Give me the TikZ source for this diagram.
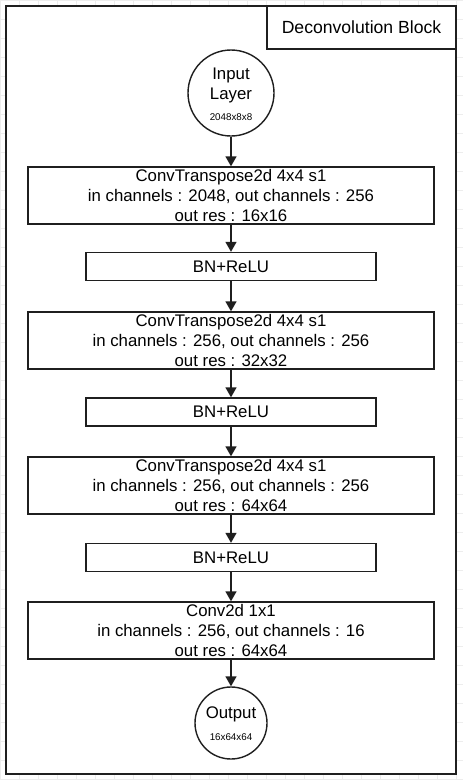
\documentclass[tikz,border=0pt]{standalone}
\usepackage{fontspec}
\setmainfont{Liberation Sans}
\usetikzlibrary{arrows.meta}
\begin{document}
\begin{tikzpicture}[x=1pt,y=-1pt,
  every node/.style={font=\fontsize{16.8}{20.2}\selectfont, text=black},
  box/.style={draw=black!88, line width=1.4pt, rectangle, minimum width=406pt, minimum height=57pt, inner sep=0pt, align=center},
  bnbox/.style={draw=black!88, line width=1.4pt, rectangle, minimum width=290pt, minimum height=28pt, inner sep=0pt, align=center},
  circ/.style={draw=black!88, line width=1.4pt, circle, inner sep=0pt, align=center},
  small/.style={font=\fontsize{9.8}{11}\selectfont},
  arr/.style={draw=black!88, line width=1.4pt, -{Triangle[width=11pt,length=10pt]}}
]
\useasboundingbox (0,0) rectangle (463,780);
\fill[white] (0,0) rectangle (463,780);
% faint grid in margin
\foreach \gx in {0,19,...,463} {\draw[black!7, line width=0.5pt] (\gx,0) -- (\gx,780);}
\foreach \gy in {0,19,...,780} {\draw[black!7, line width=0.5pt] (0,\gy) -- (463,\gy);}
\node[draw=black!88, line width=1.4pt, fill=white, rectangle, minimum width=450pt, minimum height=768pt, inner sep=0pt] (frame) at (231,390) {};
\node[draw=black!88, line width=1.4pt, fill=white, rectangle, minimum width=189pt, minimum height=43pt, inner sep=0pt, font=\fontsize{17.6}{20}\selectfont] (title) at (361.5,27.5) {Deconvolution Block};
\node[circ, minimum size=86pt] (in) at (231,93) {};
\node (inA) at (231,75) {Input};
\node (inB) at (231,95) {Layer};
\node[small] (inC) at (231,117) {2048x8x8};
\node[box] (c1) at (231,195.5) {ConvTranspose2d 4x4 s1\\in channels : 2048, out channels : 256\\out res : 16x16};
\node[bnbox] (b1) at (231,266.5) {BN+ReLU};
\node[box] (c2) at (231,340.5) {ConvTranspose2d 4x4 s1\\in channels : 256, out channels : 256\\out res : 32x32};
\node[bnbox] (b2) at (231,412) {BN+ReLU};
\node[box] (c3) at (231,485.5) {ConvTranspose2d 4x4 s1\\in channels : 256, out channels : 256\\out res : 64x64};
\node[bnbox] (b3) at (231,557.5) {BN+ReLU};
\node[box] (c4) at (231,630.5) {Conv2d 1x1\\in channels : 256, out channels : 16\\out res : 64x64};
\node[circ, minimum size=72pt] (out) at (231,723) {};
\node (outA) at (231,714) {Output};
\node[small] (outB) at (231,737) {16x64x64};
\draw[arr] (in) -- (c1);
\draw[arr] (c1) -- (b1);
\draw[arr] (b1) -- (c2);
\draw[arr] (c2) -- (b2);
\draw[arr] (b2) -- (c3);
\draw[arr] (c3) -- (b3);
\draw[arr] (b3) -- (c4);
\draw[arr] (c4) -- (out);
\end{tikzpicture}
\end{document}
